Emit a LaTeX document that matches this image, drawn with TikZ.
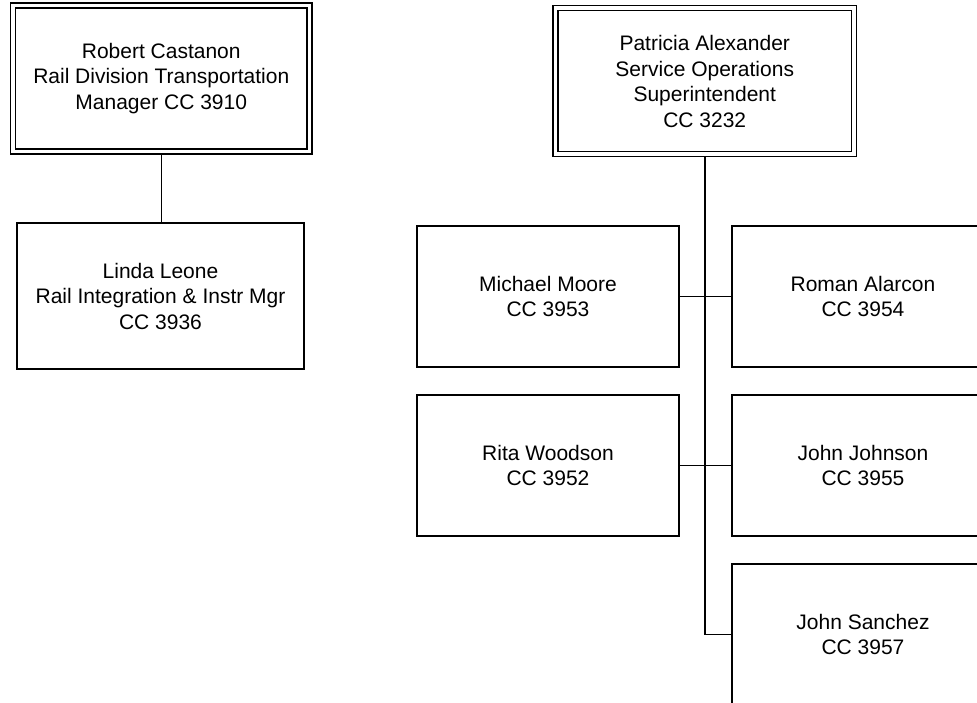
\documentclass[tikz,border=0pt]{standalone}
\usepackage{fontspec}
\setmainfont{Liberation Sans}
\usepackage{tikz}
\usetikzlibrary{positioning,calc}

\begin{document}
\begin{tikzpicture}[
  x=1pt, y=-1pt,
  person/.style={draw=black, fill=white, rectangle, line width=1.2pt,
    inner sep=0pt, align=center, font=\fontsize{21}{25.5}\selectfont},
  headbox/.style={person, double, double distance=3.8pt, outer sep=3pt,
    minimum height=146pt},
  staff/.style={person, minimum width=262pt, minimum height=141pt},
  ln/.style={line width=1.1pt},
  spine/.style={line width=1.8pt},
]

\useasboundingbox (0,0) rectangle (977,703);
\clip (0,0) rectangle (977,703);

%── Rail Division ─────────────────────────────────────────────────────────────

\node[headbox, minimum width=296.5pt] (castanon) at (161.25, 78.5)
  {Robert Castanon\\Rail Division Transportation\\Manager CC 3910};
\node[person, minimum width=287pt, minimum height=146pt] (leone) at (160.5, 296)
  {Linda Leone\\Rail Integration \& Instr Mgr\\CC 3936};

\draw[ln] (castanon.south) -- (castanon.south |- leone.north);

%── Service Operations ────────────────────────────────────────────────────────

\node[headbox, minimum width=298.5pt] (alexander) at (704.75, 81.25)
  {Patricia Alexander\\Service Operations\\Superintendent\\CC 3232};

\node[staff] (moore)    at (548, 296.5) {Michael Moore\\CC 3953};
\node[staff] (woodson)  at (548, 465.5) {Rita Woodson\\CC 3952};
\node[staff] (alarcon)  at (863, 296.5) {Roman Alarcon\\CC 3954};
\node[staff] (johnson)  at (863, 465.5) {John Johnson\\CC 3955};
\node[staff] (sanchez)  at (863, 634.5) {John Sanchez\\CC 3957};

% spine down to the last report
\draw[spine] (alexander.south) -- (alexander.south |- sanchez.west)
  -- (sanchez.west);

% paired reports
\draw[ln] (moore.east)   -- (alarcon.west);
\draw[ln] (woodson.east) -- (johnson.west);

\end{tikzpicture}
\end{document}
